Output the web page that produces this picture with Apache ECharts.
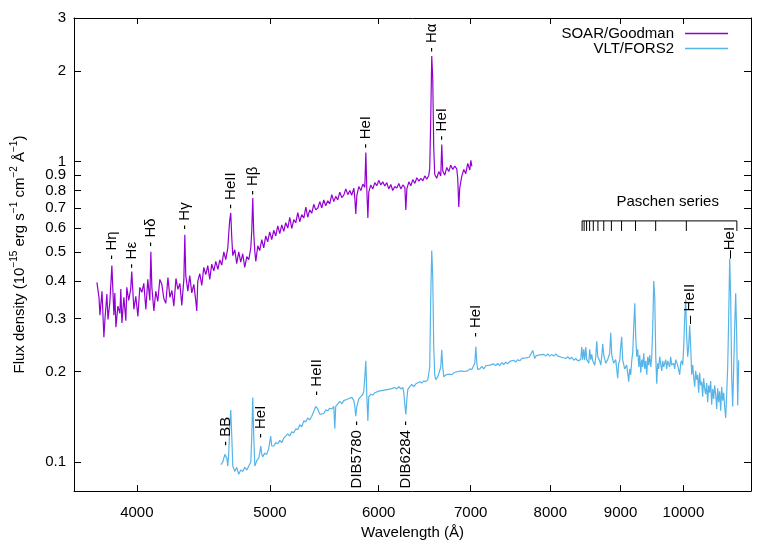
<!DOCTYPE html>
<html>
<head>
<meta charset="utf-8">
<script src="https://cdn.jsdelivr.net/npm/echarts@6/dist/echarts.min.js"></script>
<style>
  html, body { margin: 0; padding: 0; background: #fff; }
  #chart { width: 778px; height: 545px; }
</style>
</head>
<body>
<div id="chart"></div>
<script>
const FONT = "'Liberation Sans', Arial, sans-serif"

// axis ranges and ticks (real units, axes are log10)
const xRange = [3600, 11200]
const yRange = [0.08, 3]
const xTicks = [4000, 5000, 6000, 7000, 8000, 9000, 10000]
const yTicks = [0.1, 0.2, 0.3, 0.4, 0.5, 0.6, 0.7, 0.8, 0.9, 1, 2, 3]

// SOAR/Goodman spectrum [wavelength (A), flux]
const soarSpectrum = [
  [3741,0.396],[3754,0.353],[3760,0.308],[3773,0.37],[3785,0.26],[3792,0.30],[3804,0.362],[3811,0.298],[3823,0.34],[3836,0.45],
  [3849,0.308],[3855,0.365],[3862,0.281],[3875,0.33],[3888,0.312],[3894,0.376],[3901,0.29],[3914,0.353],[3927,0.295],[3933,0.381],
  [3946,0.345],[3959,0.376],[3966,0.43],[3980,0.322],[3993,0.356],[4007,0.305],[4020,0.381],[4034,0.367],[4047,0.393],[4061,0.322],
  [4074,0.405],[4088,0.345],[4095,0.50],[4102,0.381],[4116,0.318],[4129,0.37],[4143,0.342],[4157,0.405],[4171,0.39],[4185,0.35],
  [4199,0.337],[4214,0.411],[4228,0.353],[4242,0.372],[4256,0.33],[4271,0.408],[4285,0.375],[4299,0.393],[4313,0.332],[4328,0.405],
  [4335,0.57],[4342,0.417],[4357,0.37],[4371,0.417],[4386,0.365],[4401,0.39],[4415,0.345],[4423,0.318],[4430,0.399],[4445,0.423],
  [4460,0.387],[4475,0.444],[4490,0.42],[4505,0.45],[4520,0.405],[4535,0.455],[4551,0.432],[4566,0.465],[4582,0.437],[4597,0.47],
  [4612,0.452],[4628,0.50],[4643,0.471],[4659,0.516],[4666,0.574],[4674,0.638],[4682,0.674],[4690,0.557],[4698,0.486],[4714,0.508],
  [4729,0.457],[4745,0.50],[4761,0.462],[4777,0.493],[4793,0.444],[4810,0.482],[4826,0.471],[4842,0.516],[4850,0.591],[4858,0.755],
  [4866,0.575],[4875,0.50],[4883,0.465],[4899,0.524],[4915,0.505],[4932,0.549],[4948,0.516],[4965,0.565],[4981,0.54],[4998,0.583],
  [5015,0.549],[5032,0.59],[5049,0.565],[5066,0.61],[5083,0.575],[5100,0.615],[5117,0.585],[5134,0.625],[5152,0.60],[5169,0.652],
  [5186,0.598],[5204,0.64],[5221,0.625],[5239,0.675],[5256,0.63],[5274,0.665],[5292,0.648],[5310,0.705],[5327,0.652],[5345,0.69],
  [5363,0.672],[5381,0.72],[5399,0.69],[5418,0.70],[5436,0.735],[5454,0.70],[5472,0.745],[5490,0.712],[5509,0.74],[5527,0.722],
  [5546,0.775],[5565,0.735],[5583,0.765],[5602,0.745],[5621,0.79],[5640,0.758],[5659,0.772],[5678,0.81],[5697,0.775],[5716,0.80],
  [5735,0.772],[5755,0.815],[5764,0.76],[5774,0.668],[5784,0.77],[5803,0.825],[5823,0.80],[5843,0.84],[5862,0.82],[5872,1.071],
  [5882,0.80],[5892,0.648],[5901,0.79],[5921,0.835],[5941,0.81],[5961,0.85],[5981,0.83],[6001,0.865],[6021,0.835],[6041,0.855],
  [6061,0.828],[6082,0.85],[6102,0.81],[6123,0.838],[6143,0.80],[6164,0.825],[6185,0.815],[6206,0.845],[6226,0.81],[6248,0.835],
  [6269,0.82],[6279,0.689],[6290,0.81],[6311,0.855],[6332,0.83],[6353,0.87],[6375,0.845],[6396,0.882],[6418,0.86],[6439,0.878],
  [6461,0.862],[6482,0.895],[6504,0.872],[6526,0.90],[6536,0.948],[6547,1.386],[6558,2.24],[6569,1.88],[6580,1.104],[6591,0.905],
  [6613,0.879],[6636,0.925],[6658,0.895],[6669,1.138],[6680,0.93],[6703,0.9],[6725,0.955],[6748,0.925],[6770,0.972],[6793,0.94],
  [6816,0.965],[6839,0.945],[6850,0.879],[6862,0.705],[6873,0.815],[6896,0.892],[6920,0.94],[6943,0.91],[6966,0.985],[6990,0.935],
  [7002,1.008],[7014,0.963]
]

// VLT/FORS2 spectrum [wavelength (A), flux]
const vltSpectrum = [
  [4605,0.098],[4620,0.100],[4636,0.106],[4643,0.107],[4651,0.103],[4659,0.097],[4666,0.106],[4674,0.131],[4682,0.149],[4690,0.122],
  [4698,0.097],[4714,0.093],[4729,0.096],[4745,0.091],[4761,0.094],[4777,0.093],[4793,0.096],[4810,0.094],[4826,0.097],[4842,0.100],
  [4850,0.122],[4858,0.164],[4866,0.122],[4875,0.097],[4891,0.101],[4907,0.103],[4915,0.107],[4924,0.113],[4932,0.106],[4940,0.104],
  [4956,0.107],[4973,0.106],[4990,0.111],[5006,0.122],[5015,0.113],[5032,0.113],[5049,0.116],[5066,0.115],[5083,0.118],[5100,0.116],
  [5117,0.120],[5134,0.119],[5152,0.124],[5169,0.122],[5186,0.126],[5204,0.125],[5221,0.129],[5239,0.128],[5256,0.133],[5274,0.131],
  [5292,0.137],[5310,0.136],[5327,0.140],[5345,0.138],[5363,0.142],[5381,0.144],[5399,0.153],[5408,0.155],[5418,0.150],[5436,0.144],
  [5454,0.146],[5472,0.145],[5490,0.149],[5509,0.148],[5527,0.151],[5546,0.150],[5565,0.153],[5574,0.129],[5583,0.153],[5602,0.156],
  [5621,0.159],[5640,0.156],[5659,0.160],[5678,0.159],[5697,0.162],[5716,0.160],[5735,0.164],[5755,0.160],[5764,0.153],[5774,0.142],
  [5784,0.153],[5803,0.162],[5823,0.165],[5843,0.168],[5852,0.172],[5862,0.192],[5872,0.217],[5882,0.165],[5892,0.137],[5901,0.165],
  [5921,0.168],[5941,0.167],[5961,0.170],[5981,0.169],[6001,0.172],[6021,0.170],[6041,0.173],[6061,0.172],[6082,0.174],[6102,0.173],
  [6123,0.175],[6143,0.174],[6164,0.177],[6185,0.175],[6206,0.178],[6226,0.175],[6248,0.177],[6258,0.170],[6269,0.155],[6279,0.144],
  [6290,0.162],[6300,0.174],[6321,0.178],[6343,0.181],[6364,0.178],[6386,0.182],[6407,0.181],[6428,0.185],[6450,0.183],[6471,0.186],
  [6493,0.185],[6515,0.188],[6526,0.189],[6536,0.207],[6547,0.353],[6558,0.505],[6569,0.411],[6580,0.241],[6591,0.195],[6602,0.188],
  [6625,0.192],[6647,0.191],[6658,0.207],[6669,0.236],[6680,0.207],[6692,0.192],[6714,0.195],[6736,0.194],[6759,0.196],[6782,0.195],
  [6805,0.198],[6827,0.196],[6850,0.200],[6873,0.198],[6896,0.201],[6920,0.200],[6943,0.203],[6966,0.201],[6990,0.204],[7014,0.203],
  [7037,0.204],[7049,0.213],[7061,0.242],[7073,0.213],[7084,0.203],[7108,0.204],[7132,0.208],[7156,0.204],[7180,0.209],[7204,0.206],
  [7228,0.210],[7252,0.207],[7276,0.212],[7301,0.209],[7325,0.213],[7350,0.209],[7374,0.214],[7399,0.211],[7424,0.215],[7449,0.212],
  [7474,0.216],[7499,0.213],[7524,0.218],[7550,0.215],[7575,0.219],[7601,0.217],[7627,0.221],[7652,0.218],[7678,0.222],[7703,0.219],
  [7722,0.223],[7742,0.224],[7768,0.235],[7794,0.221],[7814,0.226],[7834,0.223],[7860,0.227],[7886,0.224],[7912,0.228],[7939,0.225],
  [7966,0.229],[7993,0.225],[8020,0.228],[8047,0.225],[8074,0.229],[8101,0.225],[8128,0.227],[8155,0.223],[8182,0.226],[8210,0.221],
  [8238,0.224],[8266,0.220],[8294,0.223],[8321,0.218],[8349,0.221],[8377,0.217],[8400,0.220],
  [8419,0.219],[8433,0.241],[8447,0.219],[8461,0.237],[8475,0.218],[8490,0.241],[8504,0.219],[8533,0.213],
  [8547,0.237],[8562,0.219],[8576,0.228],[8590,0.217],[8619,0.210],[8634,0.224],[8648,0.252],[8663,0.224],[8691,0.217],[8706,0.210],
  [8720,0.224],[8735,0.247],[8750,0.227],[8779,0.213],[8808,0.219],[8838,0.230],[8853,0.269],[8868,0.227],[8897,0.213],[8927,0.219],
  [8942,0.204],[8957,0.190],[8972,0.213],[8987,0.217],[9002,0.241],[9017,0.261],[9032,0.219],[9062,0.204],[9093,0.210],[9124,0.185],
  [9139,0.204],[9155,0.195],[9170,0.217],[9186,0.232],[9201,0.281],[9217,0.337],[9232,0.261],[9248,0.224],[9263,0.237],[9279,0.207],
  [9294,0.227],[9310,0.198],[9325,0.219],[9341,0.207],[9357,0.230],[9372,0.204],[9388,0.217],[9404,0.195],[9420,0.224],[9435,0.210],
  [9451,0.227],[9467,0.207],[9483,0.224],[9499,0.281],[9515,0.400],[9531,0.353],[9547,0.224],[9563,0.182],[9578,0.213],[9594,0.204],
  [9610,0.224],[9643,0.201],[9659,0.217],[9675,0.207],[9707,0.219],[9724,0.204],[9740,0.217],[9773,0.207],[9789,0.224],[9806,0.210],
  [9839,0.213],[9855,0.204],[9872,0.219],[9905,0.210],[9938,0.195],[9955,0.213],[9971,0.217],[9988,0.210],[10005,0.241],[10022,0.303],
  [10038,0.348],[10055,0.261],[10072,0.224],[10089,0.241],[10106,0.285],[10123,0.241],[10140,0.195],[10157,0.210],[10174,0.192],[10191,0.178],
  [10208,0.201],[10225,0.188],[10242,0.195],[10259,0.170],[10276,0.198],[10293,0.180],[10311,0.185],[10328,0.165],[10345,0.190],[10363,0.175],
  [10380,0.168],[10398,0.183],[10415,0.158],[10433,0.180],[10450,0.170],[10468,0.186],[10485,0.155],[10503,0.175],[10521,0.162],[10538,0.180],
  [10556,0.168],[10574,0.150],[10592,0.176],[10609,0.158],[10627,0.172],[10645,0.148],[10663,0.178],[10681,0.160],[10699,0.170],[10717,0.152],
  [10735,0.140],[10753,0.170],[10771,0.207],[10789,0.303],[10807,0.475],[10825,0.353],[10843,0.192],[10861,0.153],[10880,0.207],[10898,0.281],
  [10916,0.364],[10935,0.261],[10953,0.154],[10971,0.218]
]

// line identifications: [text, wavelength, flux where the label starts]
const upLabels = [
  ['- H\u03b7', 3836, 0.471], ['- H\u03b5', 3966, 0.44], ['- H\u03b4', 4095, 0.52],
  ['- H\u03b3', 4335, 0.592], ['- HeII', 4682, 0.694], ['- H\u03b2', 4858, 0.772],
  ['- HeI', 5872, 1.104], ['- H\u03b1', 6558, 2.307], ['- HeI', 6669, 1.173],
  ['- BB', 4643, 0.113], ['- HeI', 4924, 0.12], ['- HeII', 5408, 0.166],
  ['- HeI', 7061, 0.26], ['\u2013 HeII', 10114, 0.288], ['\u2013HeI', 10807, 0.475]
]
const downLabels = [['DIB5780 -', 5780, 0.137], ['DIB6284 -', 6284, 0.137]]

// Paschen series markers
const paschenWaves = [8438, 8467, 8502, 8545, 8598, 8665, 8750, 8863, 9015, 9229, 9546, 10049, 10938]
const paschenTop = 0.634
const paschenBottom = 0.587
const paschenTitle = ['Paschen series', 9740, 0.736]

const lg = Math.log10
const toLog = d => [lg(d[0]), lg(d[1])]

function textSeries(items, align, rotation) {
  return {
    type: 'custom',
    silent: true,
    z: 5,
    encode: { x: 0, y: 1 },
    data: items.map(d => [lg(d[1]), lg(d[2])]),
    renderItem: function(params, api) {
      const p = api.coord([api.value(0), api.value(1)])
      return {
        type: 'text',
        x: p[0],
        y: p[1],
        rotation: rotation,
        style: {
          text: items[params.dataIndex][0],
          align: align,
          verticalAlign: 'middle',
          fontSize: 15,
          fontFamily: FONT,
          fill: '#000'
        }
      }
    }
  }
}

const axisText = { fontSize: 15, fontFamily: FONT, color: '#000' }
const black = { color: '#000', width: 1 }

const chart = echarts.init(document.getElementById('chart'))
chart.setOption({
  animation: false,
  backgroundColor: '#fff',
  grid: { left: 74, right: 27, top: 18, bottom: 49, containLabel: false },
  legend: {
    data: ['SOAR/Goodman', 'VLT/FORS2'],
    orient: 'vertical',
    right: 45,
    top: 21,
    align: 'right',
    icon: 'rect',
    itemWidth: 43,
    itemHeight: 1.5,
    itemGap: 0,
    selectedMode: false,
    textStyle: { fontSize: 15, fontFamily: FONT, color: '#000', lineHeight: 15, padding: [0, 6, 0, 0] }
  },
  xAxis: [{
    type: 'value',
    position: 'bottom',
    min: lg(xRange[0]),
    max: lg(xRange[1]),
    name: 'Wavelength (\u00c5)',
    nameLocation: 'middle',
    nameGap: 30,
    nameTextStyle: axisText,
    axisLine: { show: true, onZero: false, lineStyle: black },
    axisTick: { show: true, inside: true, length: 6, customValues: xTicks.map(lg), lineStyle: black },
    axisLabel: {
      customValues: xTicks.map(lg),
      formatter: v => String(Math.round(Math.pow(10, v))),
      margin: 14,
      ...axisText
    },
    splitLine: { show: false }
  }, {
    type: 'value',
    position: 'top',
    min: lg(xRange[0]),
    max: lg(xRange[1]),
    axisLine: { show: true, onZero: false, lineStyle: black },
    axisTick: { show: true, inside: true, length: 6, customValues: xTicks.map(lg), lineStyle: black },
    axisLabel: { show: false },
    splitLine: { show: false }
  }],
  yAxis: [{
    type: 'value',
    position: 'left',
    min: lg(yRange[0]),
    max: lg(yRange[1]),
    name: 'Flux density (10{s|\u221215} erg s{s|\u22121} cm{s|\u22122} \u00c5{s|\u22121})',
    nameLocation: 'middle',
    nameRotate: 90,
    nameGap: 43,
    nameTextStyle: {
      ...axisText,
      lineHeight: 22,
      rich: { s: { fontSize: 10, fontFamily: FONT, color: '#000', verticalAlign: 'top', lineHeight: 12 } }
    },
    axisLine: { show: true, onZero: false, lineStyle: black },
    axisTick: { show: true, inside: true, length: 7, customValues: yTicks.map(lg), lineStyle: black },
    axisLabel: {
      customValues: yTicks.map(lg),
      formatter: v => String(Number(Math.pow(10, v).toPrecision(2))),
      margin: 8,
      ...axisText
    },
    splitLine: { show: false }
  }, {
    type: 'value',
    position: 'right',
    min: lg(yRange[0]),
    max: lg(yRange[1]),
    axisLine: { show: true, onZero: false, lineStyle: black },
    axisTick: { show: true, inside: true, length: 7, customValues: yTicks.map(lg), lineStyle: black },
    axisLabel: { show: false },
    splitLine: { show: false }
  }],
  series: [{
    name: 'SOAR/Goodman',
    type: 'line',
    color: '#9400d3',
    symbol: 'none',
    lineStyle: { width: 1.2, color: '#9400d3' },
    data: soarSpectrum.map(toLog)
  }, {
    name: 'VLT/FORS2',
    type: 'line',
    color: '#56b4e9',
    symbol: 'none',
    lineStyle: { width: 1.2, color: '#56b4e9' },
    data: vltSpectrum.map(toLog)
  }, {
    // Paschen series bracket
    type: 'line',
    silent: true,
    symbol: 'none',
    lineStyle: { width: 1, color: '#000' },
    data: [[lg(paschenWaves[0]), lg(paschenTop)], [lg(paschenWaves[paschenWaves.length - 1]), lg(paschenTop)]]
  }, {
    type: 'custom',
    silent: true,
    encode: { x: 0, y: 1 },
    data: paschenWaves.map(w => [lg(w), lg(paschenTop)]),
    renderItem: function(params, api) {
      const a = api.coord([api.value(0), api.value(1)])
      const b = api.coord([api.value(0), lg(paschenBottom)])
      return {
        type: 'line',
        shape: { x1: a[0], y1: a[1], x2: b[0], y2: b[1] },
        style: { stroke: '#000', lineWidth: 1 }
      }
    }
  },
  textSeries(upLabels, 'left', Math.PI / 2),
  textSeries(downLabels, 'right', Math.PI / 2),
  textSeries([paschenTitle], 'center', 0)
  ]
})
</script>
</body>
</html>
